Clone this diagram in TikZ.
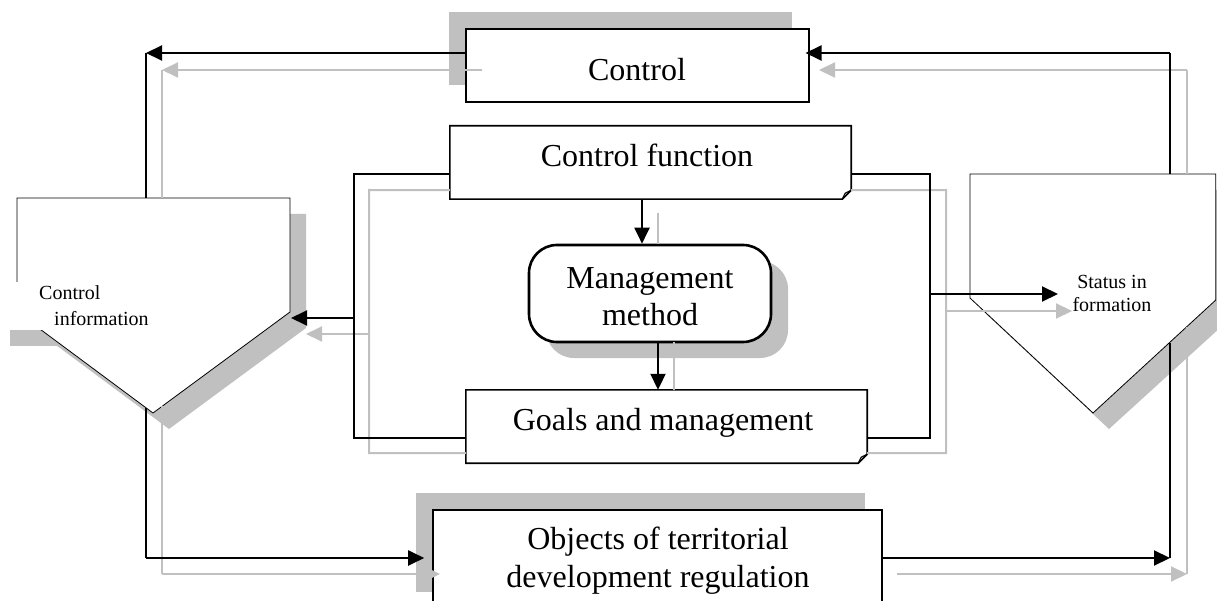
\documentclass[tikz,border=0pt]{standalone}
\usepackage{fontspec}
\setmainfont{Liberation Serif}
\usetikzlibrary{arrows.meta}
\definecolor{shd}{RGB}{192,192,192}
\begin{document}
\begin{tikzpicture}[x=1pt,y=-1pt,
  bx/.style={draw=black, line width=1.6pt, fill=white, inner sep=0pt},
  pent/.style={draw=black, line width=0.8pt, fill=white},
  conn/.style={line width=2pt, black},
  gconn/.style={line width=2pt, shd},
  arr/.style={-{Triangle[length=16pt,width=15pt]}},
  lbl/.style={font=\fontsize{32}{37}\selectfont, inner sep=0pt, anchor=base},
  slbl/.style={font=\fontsize{20}{23}\selectfont, inner sep=0pt, anchor=base}]
\useasboundingbox (0,0) rectangle (1217,601);
% ---------- shadows ----------
\fill[shd] (448.7,12) rectangle (791.7,85);
\fill[shd] (416,493) rectangle (865,592);
\fill[shd, rounded corners=28pt] (546,261) rectangle (788,358);
\fill[shd] (33,214) -- (306,214) -- (306,328) -- (169,429) -- (33,328) -- cycle;
\fill[shd] (10,330) rectangle (90,346);
\fill[shd] (986,190) -- (1233,190) -- (1233,316) -- (1109,429) -- (986,314) -- cycle;
% ---------- pentagons ----------
\draw[pent] (17,198) -- (290,198) -- (290,312) -- (153,413) -- (17,312) -- cycle;
\fill[white] (0,282) rectangle (150,330);
\draw[pent] (970,174) -- (1215.8,174) -- (1215.8,300) -- (1093,413) -- (970,298) -- cycle;
% ---------- boxes ----------
\node[bx, minimum width=343pt, minimum height=73pt] (ctrl) at (637.2,65.5) {};
\node[bx, minimum width=449pt, minimum height=99pt] (ob) at (657.5,559.5) {};
\node[bx, line width=2.6pt, rounded corners=28pt, minimum width=242pt, minimum height=97pt] (mm) at (650,293.5) {};
\node[inner sep=0pt, minimum width=401pt, minimum height=73pt] (cf) at (650.5,162.5) {};
\draw[bx] (cf.north west) -- (cf.north east) -- ([yshift=9pt]cf.south east) -- ([xshift=-9pt]cf.south east) -- (cf.south west) -- cycle;
\draw[line width=1.2pt] ([xshift=-9pt]cf.south east) -- ([xshift=-6pt,yshift=6pt]cf.south east) -- ([yshift=9pt]cf.south east);
\node[inner sep=0pt, minimum width=401pt, minimum height=73pt] (gl) at (666.5,426.5) {};
\draw[bx] (gl.north west) -- (gl.north east) -- ([yshift=9pt]gl.south east) -- ([xshift=-9pt]gl.south east) -- (gl.south west) -- cycle;
\draw[line width=1.2pt] ([xshift=-9pt]gl.south east) -- ([xshift=-6pt,yshift=6pt]gl.south east) -- ([yshift=9pt]gl.south east);
% ---------- coordinates ----------
\coordinate (lpTopB) at (146,198); \coordinate (lpTopG) at (162,198);
\coordinate (lpBotB) at (146,408); \coordinate (lpBotG) at (162,406);
\coordinate (lpInB) at (291,318);  \coordinate (lpInG) at (306,334);
\coordinate (rpTopB) at (1170,174); \coordinate (rpTopG) at (1187,174);
\coordinate (rpBotB) at (1170,343); \coordinate (rpBotG) at (1187,327);
\coordinate (rpInB) at (1058,294); \coordinate (rpInG) at (1072,311);
\coordinate (tlB) at (146,53);  \coordinate (tlG) at (162,70);
\coordinate (trB) at (1170,53); \coordinate (trG) at (1187,70);
\coordinate (blB) at (146,558); \coordinate (blG) at (162,574);
\coordinate (brB) at (1170,558); \coordinate (brG) at (1187,574);
\coordinate (cgL) at (482,70); \coordinate (cgR) at (819,70);
\coordinate (obG) at (440,574); \coordinate (obGR) at (897,574);
% ---------- gray connectors ----------
\draw[gconn, arr] (cgL) -- (tlG);
\draw[gconn] (tlG) -- (lpTopG);
\draw[gconn] (rpTopG) -- (trG);
\draw[gconn, arr] (trG) -- (cgR);
\draw[gconn] (lpBotG) -- (blG);
\draw[gconn, arr] (blG) -- (obG);
\draw[gconn, arr] (obGR) -- (brG);
\draw[gconn] (brG) -- (rpBotG);
\draw[gconn] ([yshift=9pt]cf.south west) -- (369,190) -- (369,453) -- ([yshift=10pt]gl.south west);
\draw[gconn, arr] (369,334) -- (lpInG);
\draw[gconn] ([yshift=9pt]cf.south east) -- (946,190) -- (946,453) -- ([yshift=10pt]gl.south east);
\draw[gconn, arr] (946,311) -- (rpInG);
\draw[gconn] (658,213) -- (mm.north -| 658,0);
\draw[gconn] (674,342) -- (gl.north -| 674,0);
% ---------- black connectors ----------
\draw[conn, arr] ([yshift=12.5pt]ctrl.west) -- (tlB);
\draw[conn] (tlB) -- (lpTopB);
\draw[conn] (rpTopB) -- (trB);
\draw[conn, arr] (trB) -- ([xshift=-4pt,yshift=12.5pt]ctrl.east);
\draw[conn] (lpBotB) -- (blB);
\draw[conn, arr] (blB) -- ([xshift=-8pt,yshift=1.5pt]ob.west);
\draw[conn, arr] ([yshift=1.5pt]ob.east) -- (brB);
\draw[conn] (brB) -- (rpBotB);
\draw[conn] ([yshift=-11.5pt]cf.west) -- (354,174) -- (354,438) -- ([yshift=-11.5pt]gl.west);
\draw[conn, arr] (354,318) -- (lpInB);
\draw[conn] ([yshift=-11.5pt]cf.east) -- (930,174) -- (930,438) -- ([yshift=-11.5pt]gl.east);
\draw[conn, arr] (930,294) -- (rpInB);
\draw[conn, arr] (cf.south -| 642,0) -- (mm.north -| 642,0);
\draw[conn, arr] (mm.south -| 658,0) -- (gl.north -| 658,0);
% ---------- labels ----------
\node[lbl] (tctrl) at (637,81) {Control};
\node[lbl] (tcf) at (647,167) {Control function};
\node[lbl] (tmm1) at (650,289) {Management};
\node[lbl] (tmm2) at (650,326) {method};
\node[lbl] (tgoal) at (663,430) {Goals and management};
\node[lbl] (tob1) at (658,549) {Objects of territorial};
\node[lbl] (tob2) at (658,587) {development regulation};
\node[slbl, anchor=base west] (tci1) at (39,300) {Control};
\node[slbl, anchor=base west] (tci2) at (54,325) {information};
\node[slbl] (tst1) at (1112,289) {Status in};
\node[slbl] (tst2) at (1112,312) {formation};
\end{tikzpicture}
\end{document}
